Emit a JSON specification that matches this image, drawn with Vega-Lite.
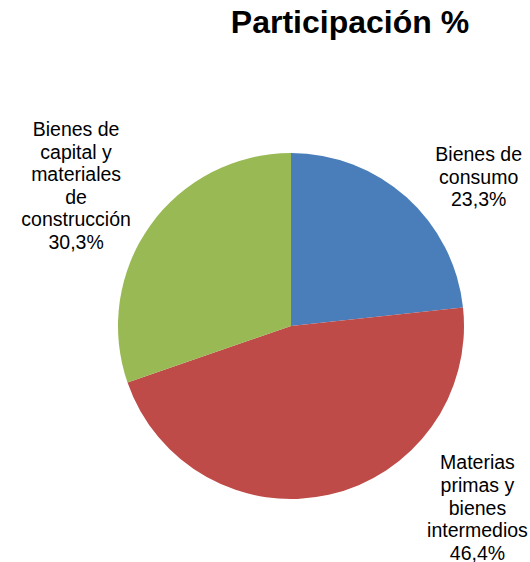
{
  "$schema": "https://vega.github.io/schema/vega-lite/v6.json",
  "width": 478,
  "height": 562,
  "autosize": {"type": "none"},
  "padding": {"left": 52, "top": 45, "right": 0, "bottom": 0},
  "background": "white",
  "title": {
    "text": "Participación %",
    "font": "Liberation Sans",
    "fontSize": 32,
    "fontWeight": "bold",
    "color": "#000000",
    "anchor": "middle",
    "dx": 59,
    "offset": 5
  },
  "data": {
    "values": [
      {"cat": "consumo", "label": "Bienes de\nconsumo\n23,3%", "value": 23.3, "ord": 1},
      {"cat": "materias", "label": "Materias\nprimas y\nbienes\nintermedios\n46,4%", "value": 46.4, "ord": 2},
      {"cat": "capital", "label": "Bienes de\ncapital y\nmateriales\nde\nconstrucción\n30,3%", "value": 30.3, "ord": 3}
    ]
  },
  "encoding": {
    "theta": {"field": "value", "type": "quantitative", "stack": true},
    "order": {"field": "ord", "type": "quantitative"}
  },
  "layer": [
    {
      "mark": {"type": "arc", "radius": 173, "stroke": null},
      "encoding": {
        "color": {
          "field": "cat",
          "type": "nominal",
          "scale": {"domain": ["consumo", "materias", "capital"], "range": ["#4A7EBB", "#BE4B48", "#98B954"]},
          "legend": null
        }
      }
    },
    {
      "mark": {"type": "text", "radius": 200, "dx": 54, "dy": -22, "font": "Liberation Sans", "fontSize": 19.5, "lineHeight": 22.6, "lineBreak": "\n", "align": "center", "baseline": "middle", "color": "#000000"},
      "encoding": {"text": {"condition": {"test": "datum.cat === 'consumo'", "field": "label"}, "value": ""}}
    },
    {
      "mark": {"type": "text", "radius": 190, "dx": 145, "dy": -48, "font": "Liberation Sans", "fontSize": 19.5, "lineHeight": 22.6, "lineBreak": "\n", "align": "center", "baseline": "middle", "color": "#000000"},
      "encoding": {"text": {"condition": {"test": "datum.cat === 'materias'", "field": "label"}, "value": ""}}
    },
    {
      "mark": {"type": "text", "radius": 200, "dx": -52, "dy": -80, "font": "Liberation Sans", "fontSize": 19.5, "lineHeight": 22.6, "lineBreak": "\n", "align": "center", "baseline": "middle", "color": "#000000"},
      "encoding": {"text": {"condition": {"test": "datum.cat === 'capital'", "field": "label"}, "value": ""}}
    }
  ]
}
